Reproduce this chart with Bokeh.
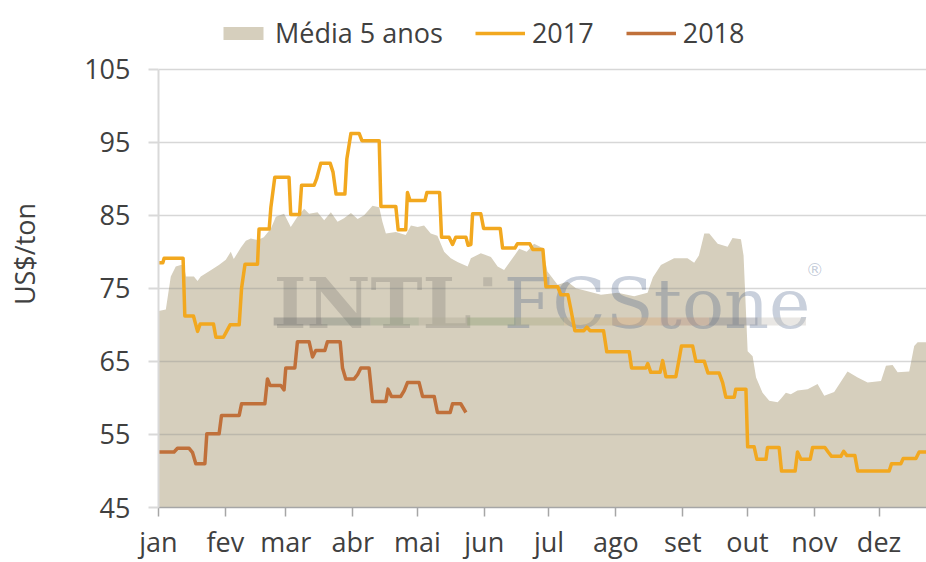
from bokeh.plotting import figure
from bokeh.models import Range1d, FixedTicker, Legend, LegendItem
from bokeh.core.properties import value
from bokeh.embed import file_html
from bokeh.resources import INLINE

# ---------------- data ----------------
months = ["jan", "fev", "mar", "abr", "mai", "jun", "jul", "ago", "set", "out", "nov", "dez"]
month_start_day = [0, 31, 59, 90, 120, 151, 181, 212, 243, 273, 304, 334]
y_ticks = [45, 55, 65, 75, 85, 95, 105]

# Média 5 anos (day of year, US$/ton)
avg_day = [0, 3.4, 5.7, 8.0, 10.3, 11.7, 12.7, 16.4, 18.1, 19.6, 23.3, 28.0, 31.2, 33.5, 34.9,
           38.2, 40.5, 42.8, 45.9, 48.8, 52.1, 54.4, 58.2, 61.3, 64.4, 67.5, 69.8, 73.7, 76.8,
           79.9, 83.0, 86.0, 89.2, 92.3, 95.3, 99.2, 102.3, 103.8, 105.4, 110.0, 114.6, 117.0,
           120.1, 123.1, 126.2, 129.3, 132.4, 135.5, 138.6, 143.3, 144.8, 149.4, 154.1, 157.2,
           160.2, 164.1, 167.2, 170.7, 174.1, 178.0, 180.3, 185.0, 189.6, 193.5, 198.9, 205.1,
           212.8, 220.5, 226.7, 229.2, 232.9, 239.0, 245.2, 248.3, 250.5, 253.0, 255.3, 259.2,
           263.8, 266.1, 270.0, 271.2, 273.1, 275.4, 277.0, 280.0, 283.1, 287.0, 288.5, 290.8,
           293.1, 296.2, 300.9, 305.5, 308.6, 313.2, 319.4, 324.1, 328.7, 334.9, 337.2, 340.3,
           342.6, 348.0, 350.3, 351.9, 356.2]
avg_val = [71.9, 72.1, 76.6, 78.0, 78.2, 78.2, 76.6, 76.6, 76.0, 76.6, 77.3, 78.2, 78.9, 80.0, 79.0,
           80.6, 81.5, 81.8, 81.6, 82.0, 83.2, 84.8, 85.2, 83.4, 84.8, 85.9, 85.2, 85.4, 84.3,
           85.4, 84.1, 84.6, 85.3, 84.5, 85.0, 86.3, 86.1, 84.1, 82.5, 82.7, 82.3, 83.6,
           83.4, 83.6, 82.5, 82.2, 80.0, 79.1, 78.6, 78.0, 79.1, 79.8, 79.3, 78.0,
           77.5, 79.1, 80.4, 80.0, 81.1, 80.5, 77.3, 75.5, 75.9, 75.0, 74.6, 74.1,
           74.4, 73.9, 74.4, 76.5, 78.2, 79.1, 79.1, 78.5, 79.5, 82.5, 82.5, 81.1,
           80.7, 81.9, 81.7, 79.5, 66.4, 65.7, 62.8, 60.7, 59.6, 59.4, 59.9, 60.7,
           60.5, 61.0, 61.2, 61.9, 60.3, 60.8, 63.6, 62.8, 62.1, 62.3, 64.4, 64.5,
           63.5, 63.6, 67.1, 67.6, 67.6]

# 2017
d2017 = [0, 2.0, 2.6, 11.4, 12.2, 16.2, 18.1, 19.3, 25.5, 26.6, 30.1, 31.2, 33.2, 37.4, 38.5,
         40.1, 45.9, 46.6, 51.3, 52.1, 53.9, 60.5, 61.3, 65.4, 66.3, 72.1, 73.3, 75.2, 79.6,
         80.9, 82.3, 86.4, 87.3, 89.2, 93.0, 94.3, 102.3, 103.1, 110.0, 111.1, 114.6, 115.4,
         116.6, 123.5, 124.4, 130.3, 131.2, 134.7, 136.3, 137.8, 142.5, 143.5, 144.8, 145.6,
         149.4, 150.7, 158.4, 159.5, 165.2, 166.4, 172.1, 173.5, 178.2, 179.6, 185.1, 186.5,
         189.8, 191.1, 193.0, 197.2, 198.6, 200.0, 206.3, 207.8, 218.2, 219.3, 225.9, 226.8,
         228.2, 232.5, 233.7, 235.2, 239.8, 241.2, 242.4, 247.6, 249.1, 253.0, 254.7, 259.9,
         261.5, 263.0, 266.9, 267.6, 272.3, 273.1, 276.1, 277.4, 281.6, 282.3, 287.7, 288.8,
         295.1, 296.2, 297.8, 302.1, 303.2, 308.9, 310.4, 312.0, 316.3, 317.6, 319.1, 322.8,
         324.1, 338.7, 339.8, 344.1, 345.2, 351.1, 352.6, 356.2]
v2017 = [78.5, 78.5, 79.1, 79.1, 71.2, 71.2, 69.1, 70.1, 70.1, 68.3, 68.3, 68.9, 70.0, 70.0, 75.0,
         78.3, 78.3, 83.1, 83.1, 86.1, 90.2, 90.2, 85.1, 85.1, 89.1, 89.1, 90.0, 92.1, 92.1,
         90.9, 87.9, 87.9, 92.7, 96.2, 96.2, 95.2, 95.2, 86.2, 86.2, 83.0, 83.0, 88.1,
         87.0, 87.0, 88.1, 88.1, 82.0, 82.0, 81.0, 82.0, 82.0, 80.9, 81.0, 85.2,
         85.2, 83.2, 83.2, 80.5, 80.5, 81.1, 81.1, 80.3, 80.3, 75.2, 75.2, 74.1,
         74.1, 72.2, 69.2, 69.2, 69.7, 69.2, 69.2, 66.3, 66.3, 64.1, 64.1, 64.7,
         63.5, 63.5, 65.1, 62.9, 62.9, 65.1, 67.1, 67.1, 65.0, 65.0, 63.4, 63.4,
         62.1, 60.1, 60.1, 61.2, 61.2, 53.3, 53.3, 51.6, 51.6, 53.2, 53.2, 50.0,
         50.0, 52.6, 51.6, 51.6, 53.2, 53.2, 52.6, 52.0, 52.0, 52.7, 52.1, 52.1,
         50.0, 50.0, 51.0, 51.0, 51.7, 51.7, 52.6, 52.6]

# 2018
d2018 = [0, 7.2, 8.8, 14.2, 15.8, 17.3, 21.5, 22.4, 28.1, 29.2, 37.4, 38.5, 49.3, 50.5, 51.7,
         56.7, 58.2, 59.0, 63.2, 64.4, 69.8, 71.4, 72.9, 77.1, 78.3, 84.2, 85.3, 86.8, 90.7,
         92.3, 93.8, 97.6, 99.2, 105.4, 106.4, 108.0, 112.3, 113.9, 115.4, 120.8, 122.4,
         127.8, 129.3, 135.2, 136.3, 140.1, 142.5]
v2018 = [52.6, 52.6, 53.1, 53.1, 52.5, 51.0, 51.0, 55.1, 55.1, 57.6, 57.6, 59.2, 59.2, 62.6, 61.7,
         61.7, 61.1, 64.1, 64.1, 67.7, 67.7, 65.6, 66.5, 66.5, 67.7, 67.7, 64.1, 62.6, 62.6,
         63.2, 64.1, 64.1, 59.5, 59.5, 61.2, 60.2, 60.2, 61.0, 62.1, 62.1, 60.2,
         60.2, 58.0, 58.0, 59.2, 59.2, 58.0]

# ---------------- styles ----------------
FONT = "Open Sans"
TXT = "#404040"
C_AVG = "#D6CFBD"
C_2017 = "#F2A81F"
C_2018 = "#C0703A"

# frame spans the full height above the x axis (510 px); 60 units = 441 px
Y_MIN, Y_MAX_TICK = 45, 105
Y_TOP = Y_MIN + 60 * 510 / 441

p = figure(width=926, height=562, output_backend="svg", toolbar_location=None,
           x_range=Range1d(0, 356), y_range=Range1d(Y_MIN, Y_TOP),
           min_border_left=158, min_border_right=0, min_border_top=0, min_border_bottom=52)
p.outline_line_color = None
p.background_fill_color = "white"
p.border_fill_color = "white"

area = p.varea(x=avg_day, y1=45, y2=avg_val, fill_color=C_AVG, level="image")

# watermark (logo text)
p.text(x=[53.4], y=[72.9], text=["INTL"], text_font=value("DejaVu Serif"), text_font_style="bold",
       text_font_size="70px", text_color="#555555", text_alpha=0.22,
       text_baseline="alphabetic", text_align="left")
p.scatter(x=[152.6], y=[75.9], marker="square", size=9, fill_color="#666666", line_color=None, alpha=0.22)
p.text(x=[160.0], y=[72.9], text=["FCStone"], text_font=value("DejaVu Serif"),
       text_font_size="70px", text_color="#3D5582", text_alpha=0.28,
       text_baseline="alphabetic", text_align="left")
p.text(x=[300.0], y=[77.6], text=["®"], text_font=value("DejaVu Sans"),
       text_font_size="18px", text_color="#3D5582", text_alpha=0.3,
       text_baseline="alphabetic", text_align="left")
bar_cols = ["#707070", "#758075", "#8f9a80", "#b0aa95", "#8a9a70", "#a8a880",
            "#c8b080", "#d8a878", "#b89080", "#808088", "#c8c4bc"]
bl, br = 53.4, 300.1
n = len(bar_cols)
step = (br - bl) / n
p.quad(left=[bl + i * step for i in range(n)], right=[bl + (i + 1) * step for i in range(n)],
       bottom=69.9, top=71.0, fill_color=bar_cols, line_color=None, fill_alpha=0.4)

l17 = p.line(d2017, v2017, line_color=C_2017, line_width=3.5, line_join="round")
l18 = p.line(d2018, v2018, line_color=C_2018, line_width=3.5, line_join="round")

# axes
p.xaxis.ticker = FixedTicker(ticks=month_start_day)
p.xaxis.major_label_overrides = {d: m for d, m in zip(month_start_day, months)}
p.xaxis.minor_tick_line_color = None
p.xaxis.major_tick_out = 9
p.xaxis.major_tick_in = 0
p.xaxis.axis_line_color = "#A6A6A6"
p.xaxis.axis_line_width = 1.5
p.xaxis.major_tick_line_color = "#A6A6A6"
p.xaxis.major_tick_line_width = 1.5
p.xaxis.major_label_text_font = FONT
p.xaxis.major_label_text_font_size = "27px"
p.xaxis.major_label_text_color = TXT
p.xaxis.major_label_standoff = 6

p.yaxis.ticker = FixedTicker(ticks=y_ticks)
p.yaxis.bounds = (Y_MIN, Y_MAX_TICK)
p.yaxis.minor_tick_line_color = None
p.yaxis.major_tick_out = 10
p.yaxis.major_tick_in = 0
p.yaxis.axis_line_color = "#D9D9D9"
p.yaxis.axis_line_width = 2
p.yaxis.major_tick_line_color = "#D9D9D9"
p.yaxis.major_tick_line_width = 2
p.yaxis.major_label_text_font = FONT
p.yaxis.major_label_text_font_size = "27px"
p.yaxis.major_label_text_color = TXT
p.yaxis.major_label_standoff = 18
p.yaxis.axis_label = "US$/ton"
p.yaxis.axis_label_text_font = FONT
p.yaxis.axis_label_text_font_size = "27px"
p.yaxis.axis_label_text_font_style = "normal"
p.yaxis.axis_label_text_color = TXT
p.yaxis.axis_label_standoff = 38

p.xgrid.visible = False
p.ygrid.ticker = FixedTicker(ticks=y_ticks)
p.ygrid.grid_line_color = "#8C8C8C"
p.ygrid.grid_line_alpha = 0.35
p.ygrid.grid_line_width = 1.5

legend = Legend(items=[LegendItem(label="Média 5 anos", renderers=[area]),
                       LegendItem(label="2017", renderers=[l17]),
                       LegendItem(label="2018", renderers=[l18])],
                orientation="horizontal", location=(60, 456),
                padding=0, margin=0, spacing=32, label_standoff=7,
                glyph_width=50, glyph_height=16,
                label_text_font=FONT, label_text_font_size="27px", label_text_color=TXT,
                background_fill_alpha=0, border_line_alpha=0)
p.add_layout(legend)

open("out.html", "w").write(file_html(p, INLINE))
